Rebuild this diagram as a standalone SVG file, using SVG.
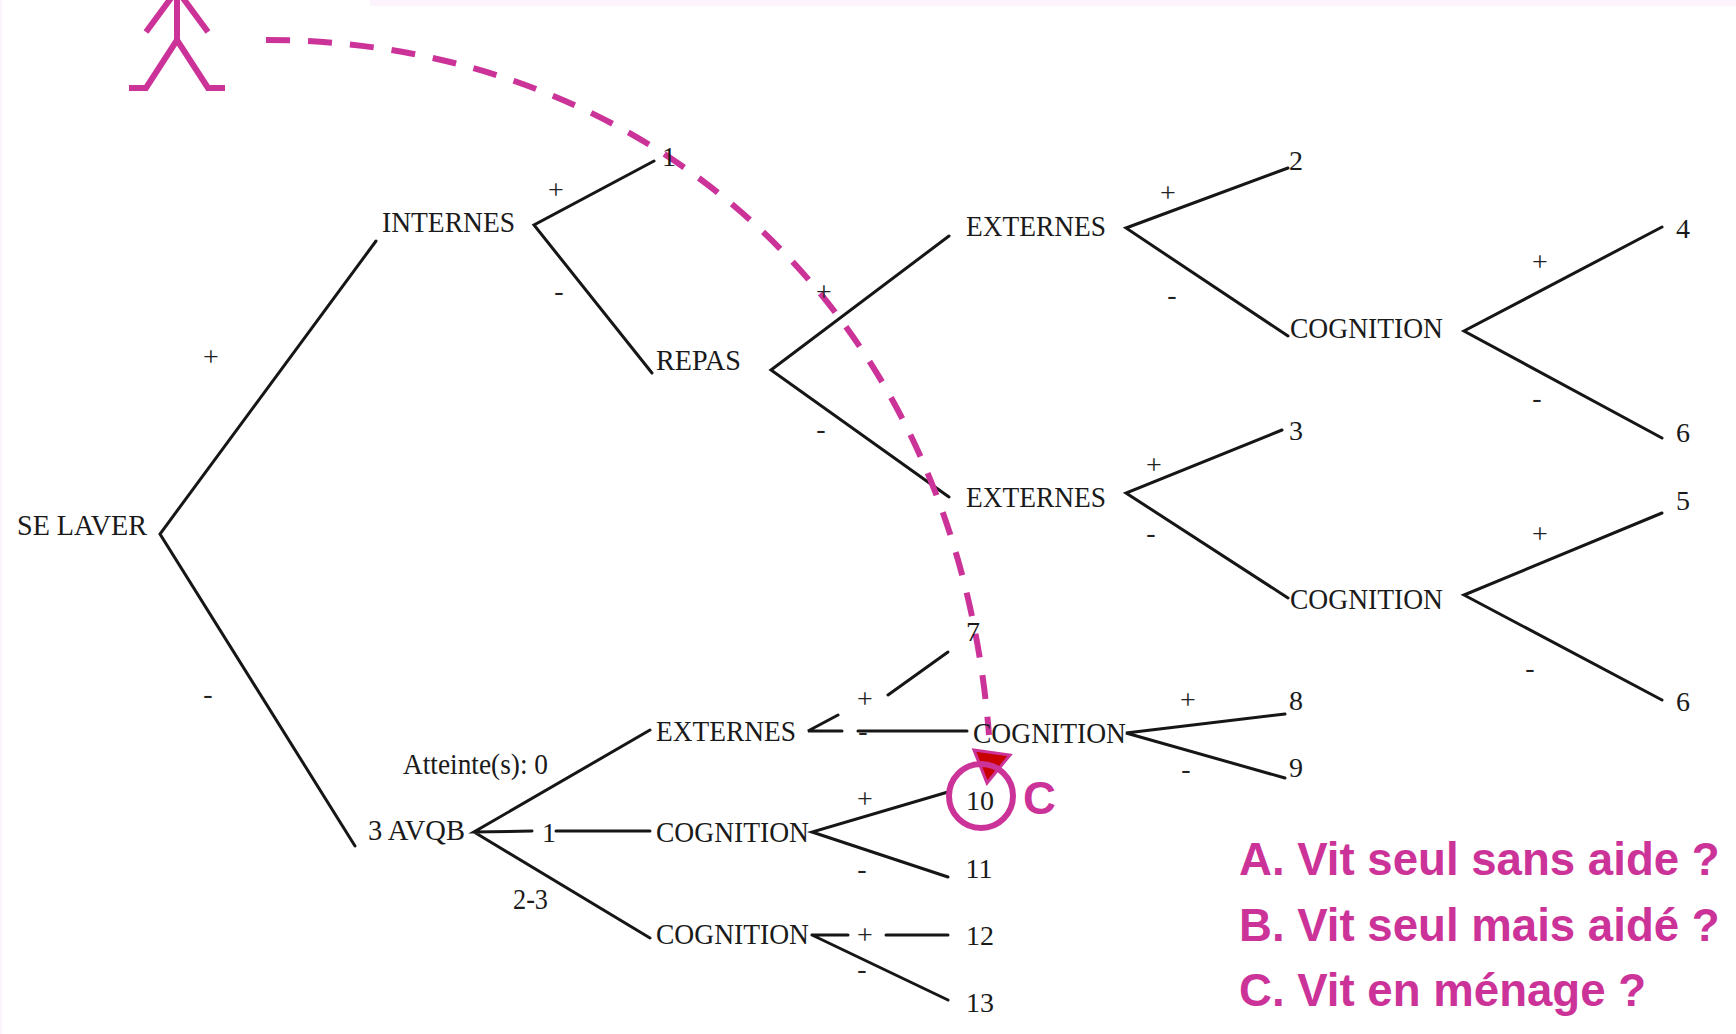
<svg xmlns="http://www.w3.org/2000/svg" width="1736" height="1034" viewBox="0 0 1736 1034">
<style>
.t{font-family:"Liberation Serif","Times New Roman",serif;font-size:30px;fill:#1a1a1a}
.n{font-family:"Liberation Serif","Times New Roman",serif;font-size:28px;fill:#1a1a1a;text-anchor:middle}
.s{font-family:"Liberation Serif","Times New Roman",serif;font-size:28px;fill:#222;text-anchor:middle}
.k{stroke:#161616;stroke-width:3;fill:none;stroke-linecap:round}
.m{stroke:#cc3399;stroke-width:6;fill:none}
.q{font-family:"Liberation Sans",Arial,sans-serif;font-weight:bold;font-size:45.6px;fill:#cc3399}
</style>
<rect width="1736" height="1034" fill="#fff"/>
<rect x="370" y="0" width="1366" height="6" fill="#fdf3fc"/>
<rect x="0" y="0" width="2" height="1034" fill="#fdf5fc"/>
<g id="connectors">
<path class="k" d="M376 241L160 534L355 846M654 161L534 225L652 373M949 236L771 370L949 497M1288 168L1126 228L1288 336M1662 227L1464 331L1662 438M1282 430L1126 493L1288 598M1662 513L1464 595L1662 700"/>
<path class="k" d="M650 730L474 832L532 831M556 831H650M474 832L650 938M838 715L808 731H842M858 731H967M888 695L948 652M1285 714L1126 733L1285 778M948 792L812 832L948 877M812 935H848M886 935H948M812 935L948 1000"/>
<path id="route" class="m" d="M266 40C640 40 955 300 989 735" stroke-dasharray="24 18"/>
<polygon points="974,750 1010,755 987,783" fill="#c80000" stroke="#cc3399" stroke-width="3"/>
</g>
<g id="person"><path class="m" d="M177 -10V40M177 -10L146 32M177 -10L208 32M129 88H146L177 40L208 88H225"/></g>
<g id="n-selaver"><text class="t" x="17" y="535" textLength="130" lengthAdjust="spacingAndGlyphs">SE LAVER</text></g>
<g id="n-internes"><text class="t" x="382" y="232" textLength="133" lengthAdjust="spacingAndGlyphs">INTERNES</text></g>
<g id="n-repas"><text class="t" x="656" y="370" textLength="85" lengthAdjust="spacingAndGlyphs">REPAS</text></g>
<g id="n-ext1"><text class="t" x="966" y="236" textLength="140" lengthAdjust="spacingAndGlyphs">EXTERNES</text></g>
<g id="n-ext2"><text class="t" x="966" y="507" textLength="140" lengthAdjust="spacingAndGlyphs">EXTERNES</text></g>
<g id="n-cog1"><text class="t" x="1290" y="338" textLength="153" lengthAdjust="spacingAndGlyphs">COGNITION</text></g>
<g id="n-cog2"><text class="t" x="1290" y="609" textLength="153" lengthAdjust="spacingAndGlyphs">COGNITION</text></g>
<g id="n-ext3"><text class="t" x="656" y="741" textLength="140" lengthAdjust="spacingAndGlyphs">EXTERNES</text></g>
<g id="n-cog3"><text class="t" x="973" y="743" textLength="153" lengthAdjust="spacingAndGlyphs">COGNITION</text></g>
<g id="n-cog4"><text class="t" x="656" y="842" textLength="153" lengthAdjust="spacingAndGlyphs">COGNITION</text></g>
<g id="n-cog5"><text class="t" x="656" y="944" textLength="153" lengthAdjust="spacingAndGlyphs">COGNITION</text></g>
<g id="n-avqb"><text class="t" x="368" y="840" textLength="97" lengthAdjust="spacingAndGlyphs">3 AVQB</text></g>
<g id="labels">
<text class="t" x="403" y="774" textLength="145" lengthAdjust="spacingAndGlyphs">Atteinte(s): 0</text>
<text class="t" x="513" y="909" textLength="35" lengthAdjust="spacingAndGlyphs">2-3</text>
<text class="n" x="549" y="842">1</text>
<text class="n" x="669" y="166">1</text><text class="n" x="1296" y="170">2</text><text class="n" x="1683" y="238">4</text><text class="n" x="1683" y="442">6</text><text class="n" x="1296" y="440">3</text><text class="n" x="1683" y="510">5</text><text class="n" x="1683" y="711">6</text><text class="n" x="973" y="641">7</text><text class="n" x="1296" y="710">8</text><text class="n" x="1296" y="777">9</text><text class="n" x="980" y="810">10</text><text class="n" x="979" y="878">11</text><text class="n" x="980" y="945">12</text><text class="n" x="980" y="1012">13</text>
<text class="s" x="211" y="366">+</text><text class="s" x="208" y="703">-</text><text class="s" x="556" y="199">+</text><text class="s" x="559" y="300">-</text><text class="s" x="824" y="301">+</text><text class="s" x="821" y="438">-</text><text class="s" x="1168" y="202">+</text><text class="s" x="1172" y="304">-</text><text class="s" x="1540" y="271">+</text><text class="s" x="1537" y="407">-</text><text class="s" x="1154" y="474">+</text><text class="s" x="1151" y="542">-</text><text class="s" x="1540" y="543">+</text><text class="s" x="1530" y="677">-</text><text class="s" x="865" y="708">+</text><text class="s" x="863" y="740">-</text><text class="s" x="1188" y="709">+</text><text class="s" x="1186" y="778">-</text><text class="s" x="865" y="808">+</text><text class="s" x="862" y="878">-</text><text class="s" x="865" y="944">+</text><text class="s" x="862" y="978">-</text>
</g>
<g id="mark-c"><circle class="m" cx="981" cy="796" r="32"/><text class="q" x="1023" y="814">C</text></g>
<g id="legend">
<text class="q" x="1239" y="875">A. Vit seul sans aide ?</text>
<text class="q" x="1239" y="941">B. Vit seul mais aidé ?</text>
<text class="q" x="1239" y="1006">C. Vit en ménage ?</text>
</g>
</svg>
